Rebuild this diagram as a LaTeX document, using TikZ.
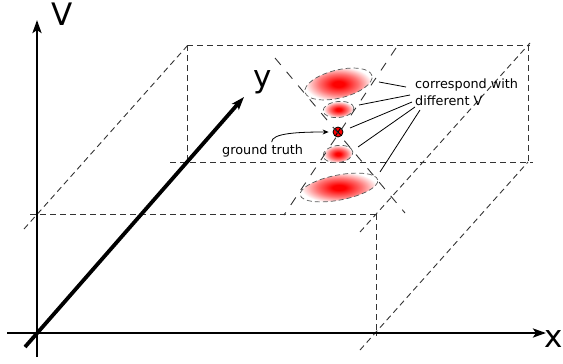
\documentclass[tikz,border=0pt]{standalone}
\usepackage{fontspec}
\setmainfont{DejaVu Sans}
\usetikzlibrary{arrows.meta,shapes.geometric}
\pgfdeclareradialshading{blobshade}{\pgfpoint{0bp}{0bp}}{color(0bp)=(red); color(4bp)=(red); color(14bp)=(red!55); color(24bp)=(white); color(50bp)=(white)}
\begin{document}
\begin{tikzpicture}[x=1pt,y=-1pt,
  boxline/.style={draw=black!80, line width=0.9pt, dash pattern=on 6pt off 4pt},
  coneline/.style={draw=black!80, line width=0.9pt, dash pattern=on 9pt off 9pt},
  axis/.style={line width=2.6pt, -{Stealth[length=13pt,width=9pt,inset=3pt]}},
  blob/.style={ellipse, inner sep=0pt, draw=black!65, line width=0.7pt, dash pattern=on 5pt off 3pt, shade, shading=blobshade},
  gtdot/.style={circle, inner sep=0pt, minimum size=10pt, fill=red, draw=black, line width=0.8pt},
  leader/.style={line width=0.8pt},
  axlabel/.style={font=\fontsize{31}{31}\selectfont, inner sep=0pt, anchor=base},
  small/.style={font=\fontsize{12.8}{17.4}\selectfont, inner sep=0pt}
]
\useasboundingbox (0,0) rectangle (563,364);

% box
\draw[boxline] (30,214) -- (376,214);
\draw[boxline] (376,214) -- (376,336);
\draw[boxline] (24,229) -- (188,45);
\draw[boxline] (187,45) -- (530,45);
\draw[boxline] (187,45) -- (187,162);
\draw[boxline] (528,45) -- (528,162);
\draw[boxline] (170,162) -- (533,162);
\draw[boxline] (360,232) -- (530,43);
\draw[boxline] (360,350) -- (528,162);

% blobs
\node[blob, minimum width=69pt, minimum height=28pt, rotate=14] (e1) at (338.5,84) {};
\node[blob, minimum width=31pt, minimum height=16pt, rotate=6] (e2) at (338.5,109.5) {};
\node[blob, minimum width=30pt, minimum height=17pt, rotate=8] (e4) at (338,154) {};
\node[blob, minimum width=79pt, minimum height=25pt, rotate=11] (e5) at (339,187.5) {};
\node[gtdot] (gt) at (338,132) {};
\draw[line width=0.8pt] ([shift={(-3,-3.4)}]gt.center) -- ([shift={(3,3.4)}]gt.center);
\draw[line width=0.8pt] ([shift={(2.6,-3.8)}]gt.center) -- ([shift={(-2.6,3.8)}]gt.center);

% cone
\draw[coneline] (275,58) -- (405,213);
\draw[coneline] (396,48) -- (284,215);

% axes
\coordinate (O) at (37,333);
\coordinate (Vb) at (37,357);
\coordinate (Vt) at (37,20);
\coordinate (Xl) at (7,333);
\coordinate (Xr) at (546,333);
\coordinate (Yb) at (25,347);
\coordinate (Yt) at (244,97);
\draw[axis] (Vb) -- (Vt);
\draw[axis] (Xl) -- (Xr);
\draw[axis, line width=3.8pt] (Yb) -- (Yt);
\node[axlabel] (lV) at (62,25) {V};
\node[axlabel] (ly) at (263,87) {y};
\node[axlabel] (lx) at (554,347) {x};

% ground truth label
\node[small, anchor=base west] (gtl) at (222,154) {ground truth};
\draw[-{Stealth[length=6pt,width=5pt]}, line width=0.8pt]
  ([xshift=9pt,yshift=2pt]gtl.north) .. controls +(0,-9) and +(-30,0) .. ([xshift=-4pt]gt.west);

% correspond label
\node[small, anchor=north west, align=left] (cv) at (415,78.6) {correspond with\\different V};
\coordinate (p1) at (379,82);  \coordinate (q1) at (406,87);
\coordinate (p2) at (359,105); \coordinate (q2) at (410,95);
\coordinate (p3) at (350,128); \coordinate (q3) at (412,102);
\coordinate (p4) at (358,147); \coordinate (q4) at (415,107);
\coordinate (p5) at (380,172); \coordinate (q5) at (420,110);
\draw[leader] (p1) -- (q1);
\draw[leader] (p2) -- (q2);
\draw[leader] (p3) -- (q3);
\draw[leader] (p4) -- (q4);
\draw[leader] (p5) -- (q5);
\end{tikzpicture}
\end{document}
